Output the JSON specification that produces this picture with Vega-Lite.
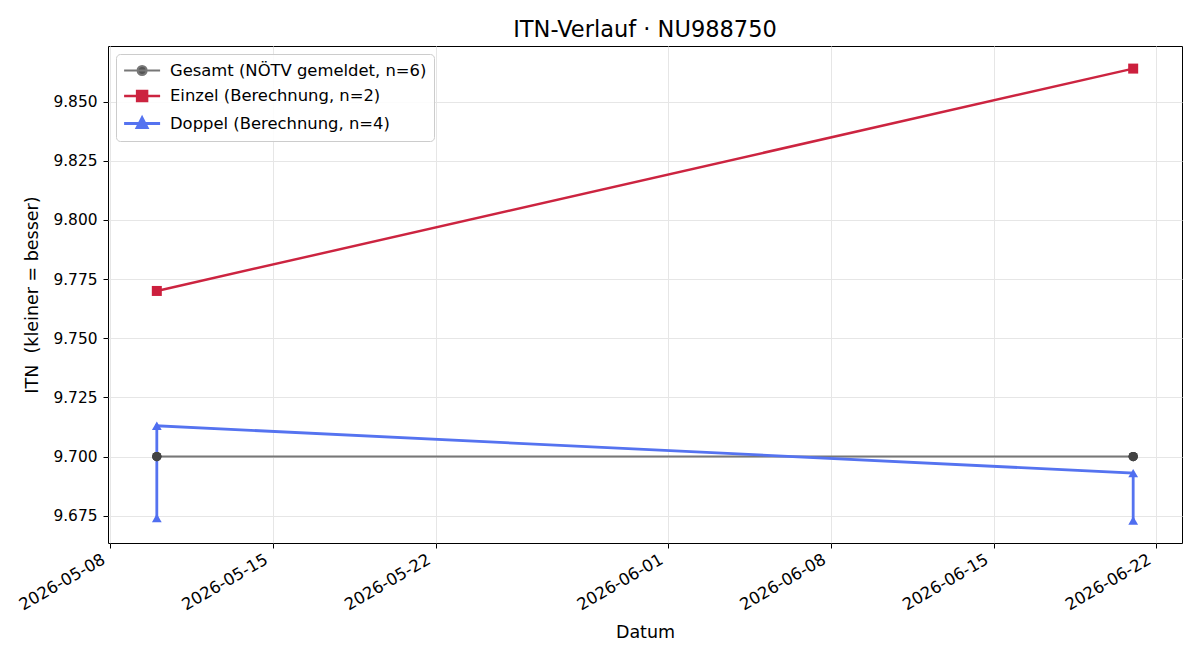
{
  "$schema": "https://vega.github.io/schema/vega-lite/v6.json",
  "width": 1074,
  "height": 497,
  "autosize": "none",
  "padding": {"left": 108, "top": 46, "right": 18, "bottom": 117},
  "background": "white",
  "title": {"text": "ITN-Verlauf · NU988750", "font": "DejaVu Sans", "fontSize": 22.5, "fontWeight": "normal", "color": "black", "offset": 5},
  "config": {
    "font": "DejaVu Sans",
    "view": {"stroke": "black", "strokeWidth": 1},
    "axis": {"labelFont": "DejaVu Sans", "labelFontSize": 15.4, "labelColor": "black", "titleFont": "DejaVu Sans", "titleFontSize": 17.5, "titleFontWeight": "normal", "titleColor": "black", "tickColor": "black", "tickSize": 5, "domain": false, "gridColor": "#e6e6e6", "gridWidth": 1}
  },
  "data": {"values": [
    {"date": "2026-05-10", "itn": 9.700, "serie": "Gesamt (NÖTV gemeldet, n=6)", "ord": 1},
    {"date": "2026-05-10", "itn": 9.700, "serie": "Gesamt (NÖTV gemeldet, n=6)", "ord": 2},
    {"date": "2026-05-10", "itn": 9.700, "serie": "Gesamt (NÖTV gemeldet, n=6)", "ord": 3},
    {"date": "2026-06-21", "itn": 9.700, "serie": "Gesamt (NÖTV gemeldet, n=6)", "ord": 4},
    {"date": "2026-06-21", "itn": 9.700, "serie": "Gesamt (NÖTV gemeldet, n=6)", "ord": 5},
    {"date": "2026-06-21", "itn": 9.700, "serie": "Gesamt (NÖTV gemeldet, n=6)", "ord": 6},
    {"date": "2026-05-10", "itn": 9.770, "serie": "Einzel (Berechnung, n=2)", "ord": 1},
    {"date": "2026-06-21", "itn": 9.864, "serie": "Einzel (Berechnung, n=2)", "ord": 2},
    {"date": "2026-05-10", "itn": 9.674, "serie": "Doppel (Berechnung, n=4)", "ord": 1},
    {"date": "2026-05-10", "itn": 9.713, "serie": "Doppel (Berechnung, n=4)", "ord": 2},
    {"date": "2026-06-21", "itn": 9.693, "serie": "Doppel (Berechnung, n=4)", "ord": 3},
    {"date": "2026-06-21", "itn": 9.673, "serie": "Doppel (Berechnung, n=4)", "ord": 4}
  ]},
  "encoding": {
    "x": {
      "field": "date", "type": "temporal", "title": "Datum",
      "scale": {"type": "utc", "domain": [
        {"year": 2026, "month": 5, "date": 7, "hours": 21, "minutes": 36, "utc": true},
        {"year": 2026, "month": 6, "date": 23, "hours": 2, "minutes": 24, "utc": true}
      ]},
      "axis": {
        "values": [
          {"year": 2026, "month": 5, "date": 8, "utc": true},
          {"year": 2026, "month": 5, "date": 15, "utc": true},
          {"year": 2026, "month": 5, "date": 22, "utc": true},
          {"year": 2026, "month": 6, "date": 1, "utc": true},
          {"year": 2026, "month": 6, "date": 8, "utc": true},
          {"year": 2026, "month": 6, "date": 15, "utc": true},
          {"year": 2026, "month": 6, "date": 22, "utc": true}
        ],
        "labelExpr": "utcFormat(datum.value, '%Y-%m-%d')",
        "labelFontSize": 16.5,
        "labelAngle": -30, "labelAlign": "right", "labelBaseline": "top", "labelPadding": 3, "labelOffset": -11,
        "titlePadding": 10
      }
    },
    "y": {
      "field": "itn", "type": "quantitative", "title": "ITN\u00a0 (kleiner = besser)",
      "scale": {"domain": [9.66345, 9.87355], "zero": false, "nice": false},
      "axis": {"values": [9.675, 9.7, 9.725, 9.75, 9.775, 9.8, 9.825, 9.85], "format": ".3f", "labelPadding": 6, "titlePadding": 11}
    }
  },
  "layer": [
    {
      "mark": {"type": "line"},
      "encoding": {
        "order": {"field": "ord", "type": "quantitative"},
        "strokeWidth": {"field": "serie", "type": "nominal", "legend": null,
          "scale": {"domain": ["Gesamt (NÖTV gemeldet, n=6)", "Einzel (Berechnung, n=2)", "Doppel (Berechnung, n=4)"], "range": [2.1, 2.8, 2.8]}},
        "color": {
          "field": "serie", "type": "nominal",
          "scale": {"domain": ["Gesamt (NÖTV gemeldet, n=6)", "Einzel (Berechnung, n=2)", "Doppel (Berechnung, n=4)"], "range": ["#777777", "#cc2440", "#5573f0"]},
          "legend": {
            "title": null, "orient": "none", "legendX": 8, "legendY": 8,
            "padding": 7, "fillColor": "rgba(255,255,255,0.85)", "strokeColor": "#cccccc", "cornerRadius": 4,
            "labelFont": "DejaVu Sans", "labelFontSize": 16.4, "labelColor": "black", "labelOffset": 28,
            "symbolSize": 256, "symbolStrokeWidth": 2.6, "rowPadding": 5.5,
            "labelLimit": 400,
            "encode": {
              "symbols": {"update": {
                "shape": {"signal": "datum.value === 'Gesamt (NÖTV gemeldet, n=6)' ? 'M-1.05,0H3.45M1.7625,0A0.5625,0.5625,0,1,1,0.6375,0A0.5625,0.5625,0,1,1,1.7625,0Z' : (datum.value === 'Einzel (Berechnung, n=2)' ? 'M-1.05,0H3.45M0.575,-0.625H1.825V0.625H0.575Z' : 'M-1.05,0H3.45M1.2,-0.7L1.825,0.5H0.575Z')"},
                "fill": {"signal": "datum.value === 'Gesamt (NÖTV gemeldet, n=6)' ? '#555555' : (datum.value === 'Einzel (Berechnung, n=2)' ? '#cc2440' : '#5573f0')"},
                "stroke": {"signal": "datum.value === 'Gesamt (NÖTV gemeldet, n=6)' ? '#777777' : (datum.value === 'Einzel (Berechnung, n=2)' ? '#cc2440' : '#5573f0')"},
                "opacity": {"value": 1},
                "size": {"value": 256},
                "strokeWidth": {"value": 2.6}
              }}
            }
          }
        }
      }
    },
    {
      "transform": [{"filter": "datum.serie === 'Gesamt (NÖTV gemeldet, n=6)'"}],
      "mark": {"type": "point", "filled": true, "opacity": 1, "shape": "circle", "size": 85, "fill": "#444444"}
    },
    {
      "transform": [{"filter": "datum.serie === 'Einzel (Berechnung, n=2)'"}],
      "mark": {"type": "point", "filled": true, "opacity": 1, "shape": "square", "size": 100, "fill": "#cc1f3d"}
    },
    {
      "transform": [{"filter": "datum.serie === 'Doppel (Berechnung, n=4)'"}],
      "mark": {"type": "point", "filled": true, "opacity": 1, "shape": "triangle-up", "size": 95, "fill": "#4f6ef0"}
    }
  ]
}
